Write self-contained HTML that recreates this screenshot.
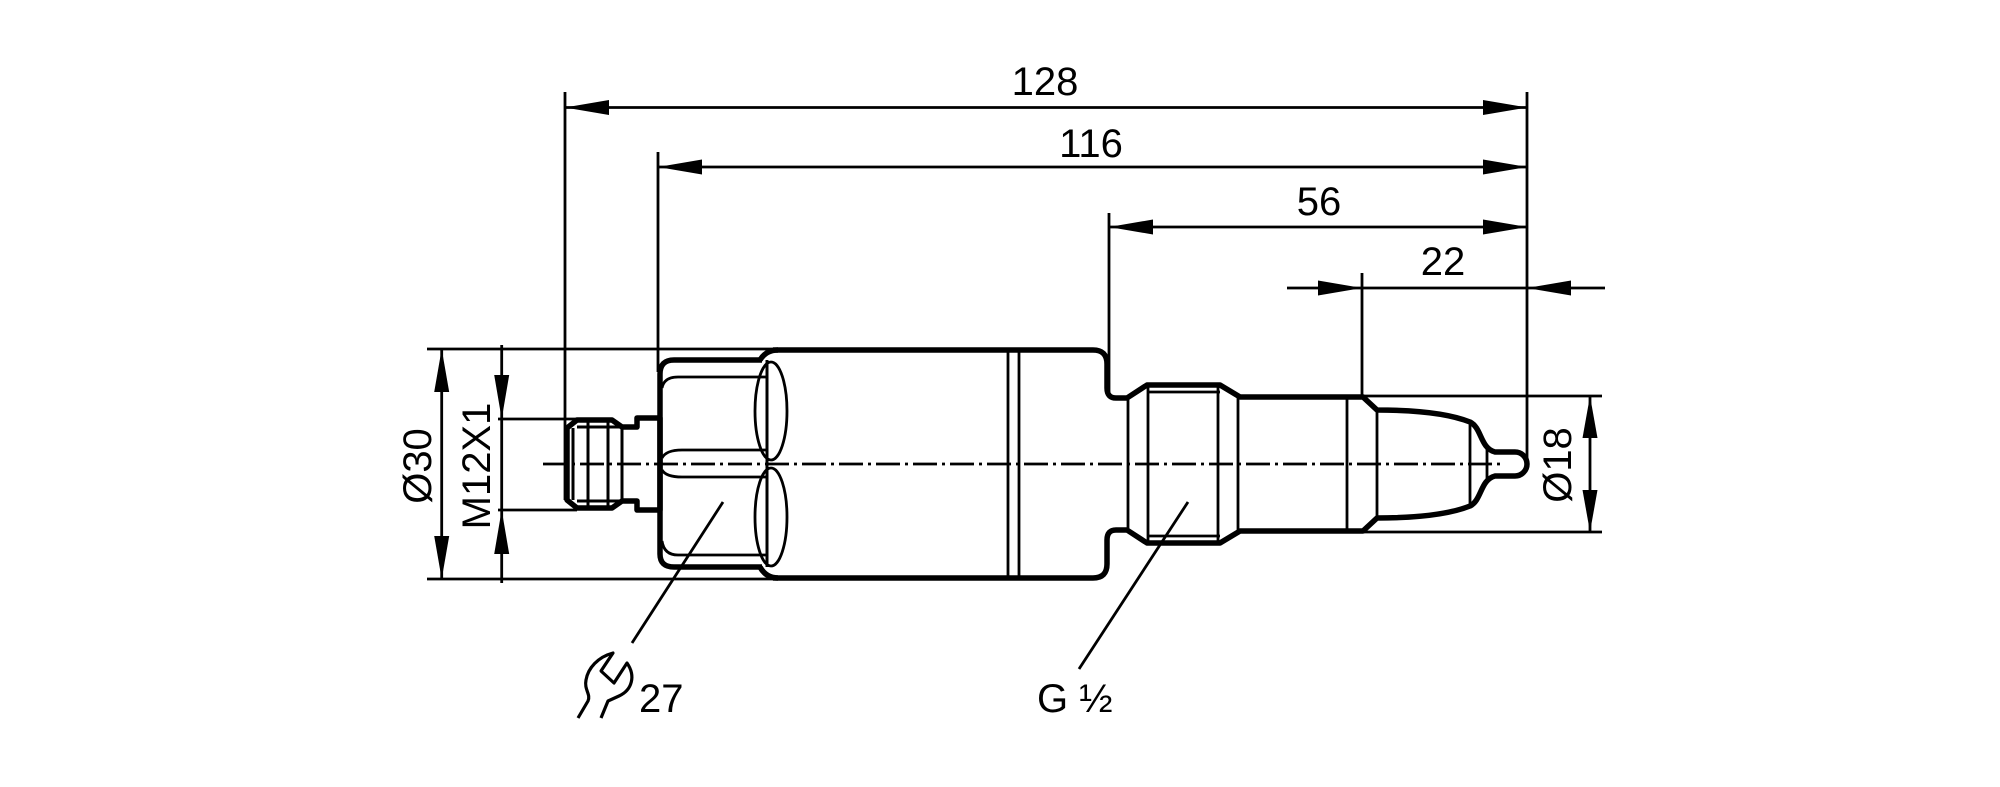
<!DOCTYPE html>
<html>
<head>
<meta charset="utf-8">
<style>
html,body{margin:0;padding:0;background:#fff;}
svg{display:block;}
text{font-family:"Liberation Sans",Arial,sans-serif;font-size:40px;fill:#000;}
</style>
</head>
<body>
<svg width="2000" height="787" viewBox="0 0 2000 787" xmlns="http://www.w3.org/2000/svg">
<g fill="none" stroke="#000" stroke-width="2.8">
  <!-- extension lines -->
  <line x1="565" y1="92" x2="565" y2="500"/>
  <line x1="1527" y1="92" x2="1527" y2="464"/>
  <line x1="658" y1="152" x2="658" y2="372"/>
  <line x1="1109" y1="213" x2="1109" y2="392"/>
  <line x1="1362" y1="273" x2="1362" y2="397"/>
  <line x1="427" y1="349" x2="775" y2="349"/>
  <line x1="427" y1="579" x2="775" y2="579"/>
  <line x1="498" y1="419" x2="577" y2="419"/>
  <line x1="498" y1="510" x2="577" y2="510"/>
  <line x1="1363" y1="396" x2="1602" y2="396"/>
  <line x1="1363" y1="532" x2="1602" y2="532"/>
  <!-- dimension lines -->
  <line x1="565" y1="107.5" x2="1527" y2="107.5"/>
  <line x1="658" y1="167" x2="1527" y2="167"/>
  <line x1="1109" y1="227" x2="1527" y2="227"/>
  <line x1="1287" y1="288" x2="1605" y2="288"/>
  <line x1="441.7" y1="349" x2="441.7" y2="579"/>
  <line x1="501.7" y1="345" x2="501.7" y2="583"/>
  <line x1="1590" y1="396" x2="1590" y2="532"/>
  <!-- leaders -->
  <line x1="723" y1="502" x2="632" y2="643"/>
  <line x1="1188" y1="502" x2="1079" y2="669"/>
</g>
<!-- arrowheads -->
<g fill="#000" stroke="none">
  <polygon points="565,107.5 609,100 609,115"/>
  <polygon points="1527,107.5 1483,100 1483,115"/>
  <polygon points="658,167 702,159.5 702,174.5"/>
  <polygon points="1527,167 1483,159.5 1483,174.5"/>
  <polygon points="1109,227 1153,219.5 1153,234.5"/>
  <polygon points="1527,227 1483,219.5 1483,234.5"/>
  <polygon points="1362,288 1318,280.5 1318,295.5"/>
  <polygon points="1527,288 1571,280.5 1571,295.5"/>
  <polygon points="441.7,349 434.2,392 449.2,392"/>
  <polygon points="441.7,579 434.2,536 449.2,536"/>
  <polygon points="501.7,419 494.2,375 509.2,375"/>
  <polygon points="501.7,510 494.2,554 509.2,554"/>
  <polygon points="1590,396 1582.5,438 1597.5,438"/>
  <polygon points="1590,532 1582.5,490 1597.5,490"/>
</g>
<!-- centerline -->
<line x1="543" y1="464" x2="1505" y2="464" stroke="#000" stroke-width="2.8" stroke-dasharray="24 5 3 5"/>
<!-- main outline -->
<g fill="none" stroke="#000" stroke-width="5.5" stroke-linejoin="round">
  <path d="M 773 350 L 1093 350 Q 1107 350 1107 364 L 1107 388 Q 1107 398 1116 398 L 1127 398 L 1147 385 L 1220 385 L 1240 397 L 1363 397 L 1377 410 C 1420 410 1450 414 1470 422 C 1482 428 1480 448 1495 452 L 1515 452 A 12 12 0 0 1 1515 476 L 1495 476 C 1480 480 1482 500 1470 506 C 1450 514 1420 518 1377 518 L 1363 531 L 1240 531 L 1220 543 L 1147 543 L 1127 530 L 1116 530 Q 1107 530 1107 540 L 1107 564 Q 1107 578 1093 578 L 773 578"/>
  <path d="M 760 360 Q 766 350 778 350"/>
  <path d="M 760 567 Q 766 578 778 578"/>
  <!-- nut -->
  <path d="M 762 360 L 674 360 Q 660 360 660 374 L 660 554 Q 660 567 674 567 L 762 567"/>
  <!-- connector -->
  <path d="M 567 428 L 577 420 L 612 420 L 622 427 L 637 427 L 637 418 L 660 418 L 660 510 L 637 510 L 637 501 L 622 501 L 612 508 L 577 508 L 567 500 Z"/>
</g>
<g fill="none" stroke="#000" stroke-width="2.8">
  <!-- nut details -->
  <path d="M 662 388 Q 664 377 678 377 L 767 377"/>
  <path d="M 662 541 Q 664 555 678 555 L 767 555"/>
  <path d="M 662 458 Q 666 450 682 450 L 767 450"/>
  <path d="M 662 470 Q 666 477 682 477 L 767 477"/>
  <line x1="767" y1="360" x2="767" y2="567" stroke-width="3"/>
  <ellipse cx="771" cy="411" rx="16" ry="49"/>
  <ellipse cx="771" cy="517" rx="16" ry="49"/>
  <!-- body stripes -->
  <line x1="1008" y1="350" x2="1008" y2="578"/>
  <line x1="1019" y1="350" x2="1019" y2="578"/>
  <!-- thread details -->
  <line x1="1128" y1="398" x2="1128" y2="530"/>
  <line x1="1148" y1="386" x2="1148" y2="542"/>
  <line x1="1218" y1="386" x2="1218" y2="542"/>
  <line x1="1238" y1="397" x2="1238" y2="531"/>
  <line x1="1147" y1="392" x2="1220" y2="392"/>
  <line x1="1147" y1="536" x2="1220" y2="536"/>
  <!-- shaft/probe details -->
  <line x1="1347" y1="397" x2="1347" y2="531"/>
  <line x1="1377" y1="410" x2="1377" y2="518"/>
  <line x1="1470" y1="422" x2="1470" y2="506"/>
  <line x1="1487" y1="449" x2="1487" y2="479"/>
  <!-- connector details -->
  <line x1="573" y1="428" x2="573" y2="500" stroke-width="3"/>
  <line x1="588" y1="420" x2="588" y2="508" stroke-width="3"/>
  <line x1="608" y1="420" x2="608" y2="508" stroke-width="3"/>
  <line x1="622" y1="427" x2="622" y2="501" stroke-width="3"/>
  <line x1="577" y1="427" x2="622" y2="427" stroke-width="3"/>
  <line x1="577" y1="501" x2="622" y2="501" stroke-width="3"/>
  <!-- wrench -->
  <path d="M 578 718 L 588 701 C 591 694 584 690 586 680 C 588 668 598 657 613 653 L 601 671 L 614 683 L 627 663 C 636 676 632 690 619 696 L 608 701 L 601 718" stroke-width="3.2" stroke-linejoin="round"/>
</g>
<!-- labels -->
<text x="1045" y="95" text-anchor="middle">128</text>
<text x="1091" y="157" text-anchor="middle">116</text>
<text x="1319" y="215" text-anchor="middle">56</text>
<text x="1443" y="275" text-anchor="middle">22</text>
<text transform="translate(431,466) rotate(-90)" text-anchor="middle">Ø30</text>
<text transform="translate(490,466) rotate(-90)" text-anchor="middle">M12X1</text>
<text transform="translate(1571,465) rotate(-90)" text-anchor="middle">Ø18</text>
<text x="639" y="712">27</text>
<text x="1037" y="712">G ½</text>
</svg>
</body>
</html>
